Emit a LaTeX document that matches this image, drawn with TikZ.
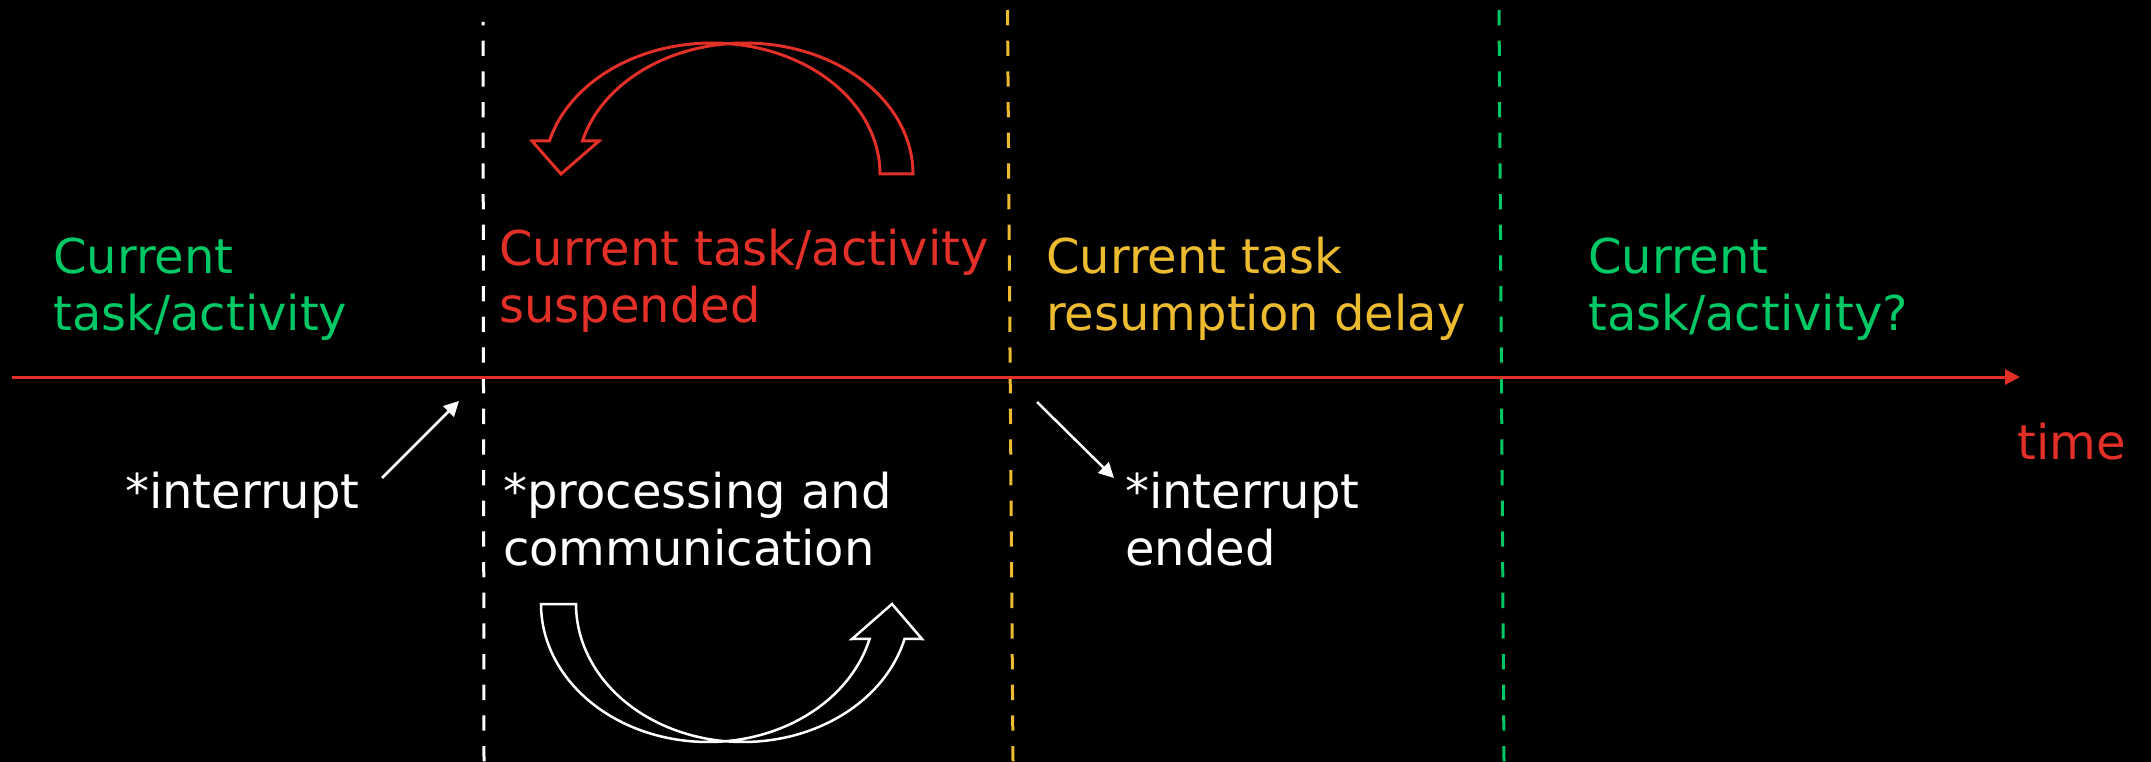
\documentclass[tikz,border=0pt]{standalone}
\usepackage{fontspec}
\setmainfont{DejaVu Sans}
\usetikzlibrary{arrows.meta}
\definecolor{axisred}{RGB}{226,48,40}
\definecolor{curgreen}{RGB}{0,200,100}
\definecolor{delayyellow}{RGB}{236,187,48}
\begin{document}
\begin{tikzpicture}[x=1pt,y=-1pt,
  lbl/.style={anchor=base west, inner sep=0pt, align=left, font=\fontsize{48}{57}\selectfont},
  vdash/.style={line width=3pt, dash pattern=on 15.3pt off 15.37pt},
  ptr/.style={white, line width=2.5pt, -{Triangle[length=15pt,width=15pt]}},
  bendarrow/.style={line width=3pt, line join=miter}
]
\fill[black] (0,0) rectangle (2151,762);
\useasboundingbox (0,0) rectangle (2151,762);

% vertical phase separators
\coordinate (w0) at (483,22);   \coordinate (w1) at (484,762);
\coordinate (y0) at (1007.5,10); \coordinate (y1) at (1013,762);
\coordinate (g0) at (1499,10);  \coordinate (g1) at (1504,762);
\draw[vdash, white, dash phase=12pt] (w0) -- (w1);
\draw[vdash, delayyellow] (y0) -- (y1);
\draw[vdash, curgreen] (g0) -- (g1);

% time axis
\coordinate (ax0) at (12,377);
\coordinate (ax1) at (2020,377);
\draw[axisred, line width=3pt, -{Triangle[length=15pt,width=15pt]}] (ax0) -- (ax1);

% curved block arrows
\draw[bendarrow, axisred] (880,174)
  -- plot[domain=0:-165.4, samples=90] ({712+168*cos(\x)},{174+131*sin(\x)})
  -- (532,141) -- (561,174) -- (599,141)
  -- plot[domain=-165.4:0, samples=90] ({745+168*cos(\x)},{174+131*sin(\x)})
  -- cycle;
\draw[bendarrow, white, line width=2.5pt] (541,604)
  -- plot[domain=180:14.6, samples=90] ({708+167*cos(\x)},{604+138*sin(\x)})
  -- (852,639) -- (892,604) -- (922,639)
  -- plot[domain=14.6:180, samples=90] ({743+167*cos(\x)},{604+138*sin(\x)})
  -- cycle;

% labels (base anchor = baseline of the last line)
\node[lbl, curgreen] (cur) at (53,330) {Current\\task/activity};
\node[lbl, axisred] (susp) at (499,322) {Current task/activity\\suspended};
\node[lbl, delayyellow] (delay) at (1046,330) {Current task\\resumption delay};
\node[lbl, curgreen] (next) at (1588,330) {Current\\task/activity?};
\node[lbl, white] (intr) at (125,508) {*interrupt};
\node[lbl, white] (proc) at (503,565) {*processing and\\communication};
\node[lbl, white] (ended) at (1125,565) {*interrupt\\ended};
\node[lbl, axisred] (time) at (2017,459) {time};

% pointer arrows
\coordinate (i0) at (382,478); \coordinate (i1) at (459,401);
\draw[ptr] (i0) -- (i1);
\coordinate (e0) at (1037,402); \coordinate (e1) at (1114,478);
\draw[ptr] (e0) -- (e1);
\end{tikzpicture}
\end{document}
